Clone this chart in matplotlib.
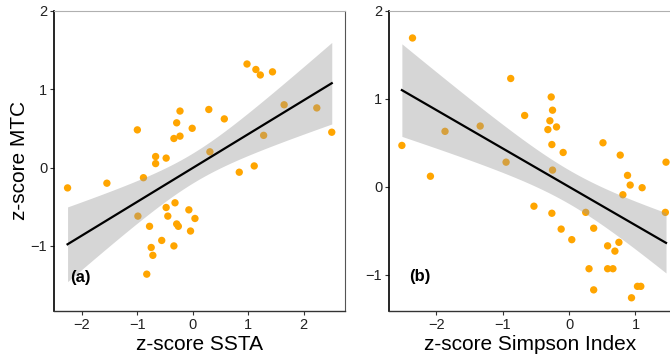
import numpy as np
import matplotlib
matplotlib.use("Agg")
import matplotlib.pyplot as plt

plt.rcParams["font.family"] = ["Liberation Sans", "DejaVu Sans"]

# panel (a): z-score SSTA vs z-score MTC
ssta_x = [-2.26, -1.55, -1.00, -0.89, -0.99, -0.78, -0.75, -0.72, -0.83, -0.67,
          -0.67, -0.48, -0.56, -0.48, -0.45, -0.34, -0.32, -0.29, -0.26, -0.29,
          -0.23, -0.34, -0.23, -0.01, -0.07, -0.04, 0.04, 0.29, 0.31, 0.57,
          0.84, 1.11, 0.98, 1.14, 1.22, 1.44, 1.28, 1.65, 2.24, 2.51]
ssta_y = [-0.26, -0.20, 0.48, -0.13, -0.62, -0.75, -1.02, -1.12, -1.36, 0.14,
          0.05, 0.12, -0.93, -0.51, -0.62, -1.00, -0.45, -0.72, -0.75, 0.57,
          0.72, 0.37, 0.40, 0.50, -0.54, -0.81, -0.65, 0.74, 0.20, 0.62,
          -0.06, 0.02, 1.32, 1.25, 1.18, 1.22, 0.41, 0.80, 0.76, 0.45]

# panel (b): z-score Simpson Index vs z-score MTC
simp_x = [-2.52, -2.36, -2.09, -1.87, -1.34, -0.95, -0.88, -0.67, -0.53, -0.27,
          -0.25, -0.29, -0.32, -0.19, -0.26, -0.25, -0.26, -0.09, -0.12, 0.04,
          0.25, 0.37, 0.30, 0.37, 0.51, 0.58, 0.58, 0.66, 0.69, 0.75,
          0.77, 0.81, 0.88, 0.92, 1.10, 0.94, 1.03, 1.08, 1.46, 1.45]
simp_y = [0.47, 1.69, 0.12, 0.63, 0.69, 0.28, 1.23, 0.81, -0.22, 1.02,
          0.87, 0.75, 0.65, 0.68, 0.48, 0.19, -0.30, 0.39, -0.48, -0.60,
          -0.29, -0.47, -0.93, -1.17, 0.50, -0.67, -0.93, -0.93, -0.73, -0.63,
          0.36, -0.09, 0.13, 0.02, -0.01, -1.26, -1.13, -1.13, 0.28, -0.29]


def lm_band(x, y, n=100):
    # linear fit with 95% confidence band, like geom_smooth(method="lm")
    x = np.asarray(x)
    y = np.asarray(y)
    slope, icpt = np.polyfit(x, y, 1)
    resid = y - (slope * x + icpt)
    s = np.sqrt(np.sum(resid ** 2) / (len(x) - 2))
    sxx = np.sum((x - x.mean()) ** 2)
    xs = np.linspace(x.min(), x.max(), n)
    fit = slope * xs + icpt
    se = s * np.sqrt(1 / len(x) + (xs - x.mean()) ** 2 / sxx)
    t = 2.024
    return xs, fit, fit - t * se, fit + t * se


def draw_panel(ax, x, y, xlabel, tag, tag_pos):
    ax.scatter(x, y, s=28, color="#FFA500", edgecolors="none", zorder=2)
    xs, fit, lo, hi = lm_band(x, y)
    ax.fill_between(xs, lo, hi, color="#999999", alpha=0.4, linewidth=0, zorder=3)
    ax.plot(xs, fit, color="black", linewidth=1.6, zorder=4)
    ax.text(tag_pos[0], tag_pos[1], tag, fontsize=12, fontweight="bold",
            va="center", ha="left", zorder=5)
    ax.set_xlabel(xlabel, fontsize=15, labelpad=2)
    ax.spines["left"].set_color("black")
    ax.spines["left"].set_linewidth(1.2)
    ax.spines["bottom"].set_color("#333333")
    ax.spines["bottom"].set_linewidth(1.0)
    ax.spines["top"].set_color("#b0b0b0")
    ax.spines["top"].set_linewidth(0.8)
    ax.spines["right"].set_color("#555555")
    ax.spines["right"].set_linewidth(0.8)
    ax.tick_params(length=3, width=0.8, color="#333333", labelsize=10.5,
                   labelcolor="#222222", pad=2)


fig = plt.figure(figsize=(6.7, 3.61), dpi=100)
ax1 = fig.add_axes([0.081, 0.1385, 0.434, 0.8319])
ax2 = fig.add_axes([0.581, 0.1385, 0.419, 0.8319])

draw_panel(ax1, ssta_x, ssta_y, "z-score SSTA", "(a)", (-2.22, -1.40))
ax1.set_xlim(-2.50, 2.75)
ax1.set_ylim(-1.83, 2.0)
ax1.set_xticks([-2, -1, 0, 1, 2])
ax1.set_yticks([-1, 0, 1, 2])
ax1.set_ylabel("z-score MTC", fontsize=15, labelpad=1)

draw_panel(ax2, simp_x, simp_y, "z-score Simpson Index", "(b)", (-2.41, -1.02))
ax2.set_xlim(-2.71, 1.52)
ax2.set_ylim(-1.41, 2.0)
ax2.set_xticks([-2, -1, 0, 1])
ax2.set_yticks([-1, 0, 1, 2])
ax2.spines["right"].set_visible(False)

fig.savefig("out.png", dpi=100)
